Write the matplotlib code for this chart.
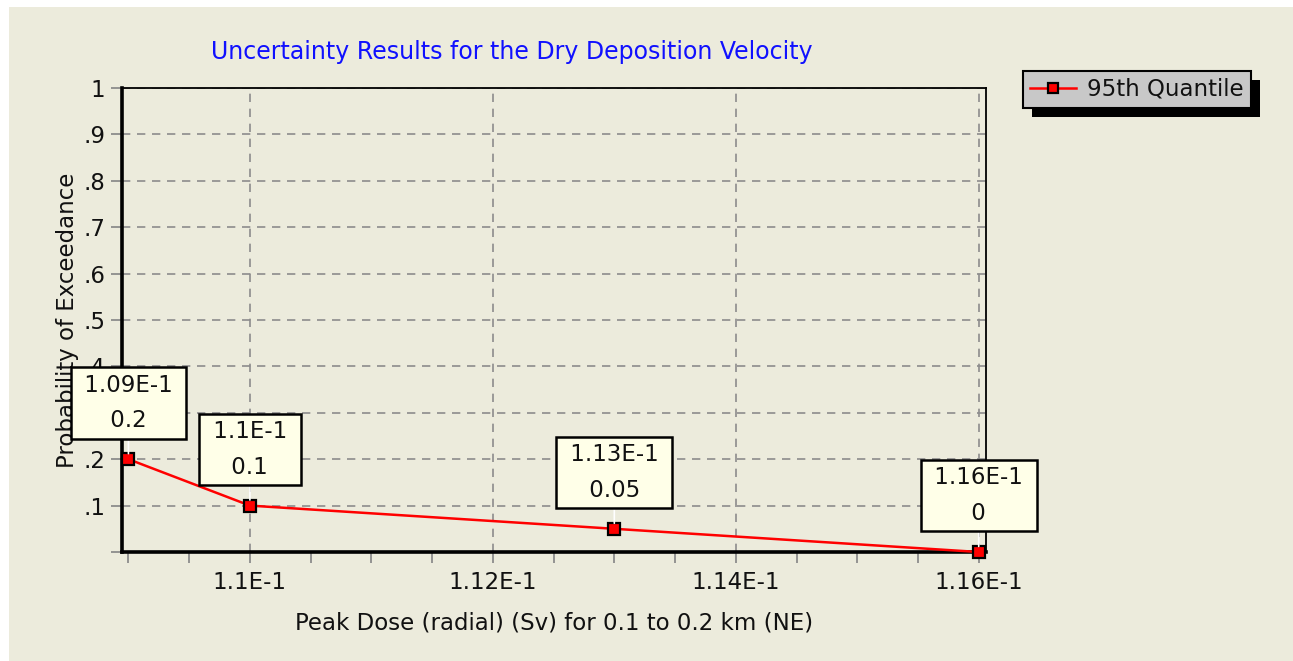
import matplotlib
matplotlib.use("Agg")
import matplotlib.pyplot as plt
from matplotlib.patches import Rectangle
from matplotlib.ticker import MultipleLocator

# Data
dose = [0.109, 0.110, 0.113, 0.116]
prob = [0.2, 0.1, 0.05, 0.0]
point_labels = ["1.09E-1\n0.2", "1.1E-1\n0.1", "1.13E-1\n0.05", "1.16E-1\n0"]

x_ticks = [0.110, 0.112, 0.114, 0.116]
x_tick_labels = ["1.1E-1", "1.12E-1", "1.14E-1", "1.16E-1"]
y_ticks = [0.0, 0.1, 0.2, 0.3, 0.4, 0.5, 0.6, 0.7, 0.8, 0.9, 1.0]
y_tick_labels = ["", ".1", ".2", ".3", ".4", ".5", ".6", ".7", ".8", ".9", "1"]

series_name = "95th Quantile"
title = "Uncertainty Results for the Dry Deposition Velocity"
xlabel = "Peak Dose (radial) (Sv) for 0.1 to 0.2 km (NE)"
ylabel = "Probability of Exceedance"

beige = "#ECEBDC"
ink = "#111111"
fs = 16.5
W, H = 1293, 661
plt.rcParams['font.family'] = ['DejaVu Sans']

fig = plt.figure(figsize=(W / 100, H / 100), dpi=100, facecolor="white")
fig.patches.append(Rectangle((9 / W, 0), 1 - 9 / W, 1 - 7 / H, transform=fig.transFigure,
                             facecolor=beige, edgecolor="none", zorder=-10))

ax = fig.add_axes([122 / W, 1 - 552 / H, (986 - 122) / W, (552 - 88) / H])
ax.set_facecolor(beige)

ax.plot(dose, prob, color="red", lw=1.8, marker="s", markersize=8,
        markerfacecolor="red", markeredgecolor="black", markeredgewidth=1.6,
        clip_on=False, zorder=5, label=series_name)

ax.set_xlim(0.108947, 0.11606)
ax.set_ylim(0, 1)
ax.set_xticks(x_ticks)
ax.set_xticklabels(x_tick_labels)
ax.xaxis.set_minor_locator(MultipleLocator(0.0005))
ax.set_yticks(y_ticks)
ax.set_yticklabels(y_tick_labels)

ax.grid(True, which="major", color="#8C8C8C", linestyle=(0, (5, 4)), lw=1.2)
ax.tick_params(which="both", direction="out", length=8, width=1.3, color="#8C8C8C",
               labelsize=fs, labelcolor=ink)
ax.tick_params(axis="x", pad=6)
ax.tick_params(axis="y", pad=4)

for side in ["left", "bottom"]:
    ax.spines[side].set_linewidth(2.6)
for side in ["top", "right"]:
    ax.spines[side].set_linewidth(1.3)

ax.set_xlabel(xlabel, fontsize=fs, color=ink, labelpad=12)
ax.set_ylabel(ylabel, fontsize=fs, color=ink, labelpad=3)
fig.text(512 / W, 1 - 52 / H, title, fontsize=17, color="#1010FF", ha="center", va="center")

# data labels
for x, y, lab in zip(dose, prob, point_labels):
    padded = "\n".join(" " + s + " " for s in lab.split("\n"))
    ax.annotate(padded, xy=(x, y), xytext=(0, 27), textcoords="offset pixels",
                ha="center", va="bottom", fontsize=fs, linespacing=1.7, color=ink,
                multialignment="center",
                bbox=dict(boxstyle="square,pad=0.28", facecolor="#FFFFE8", edgecolor="black", lw=1.8),
                arrowprops=dict(arrowstyle="-", color="white", lw=1.2, shrinkA=0, shrinkB=4),
                annotation_clip=False, zorder=6)

leg = fig.legend(loc="upper left", bbox_to_anchor=(1023 / W, 1 - 71 / H), borderaxespad=0,
                 fontsize=fs, fancybox=False, facecolor="#C8C8C8", edgecolor="black",
                 framealpha=1, handlelength=2.0, borderpad=0.3, handletextpad=0.5,
                 markerscale=0.85)
leg.get_frame().set_linewidth(1.5)
for t in leg.get_texts():
    t.set_color(ink)

fig.canvas.draw()
bb = leg.get_window_extent()
fig.patches.append(Rectangle((bb.x0 + 9, bb.y0 - 9), bb.width, bb.height, transform=None,
                             facecolor="black", edgecolor="none", zorder=4.5))

fig.savefig("out.png", dpi=100, facecolor="white")
